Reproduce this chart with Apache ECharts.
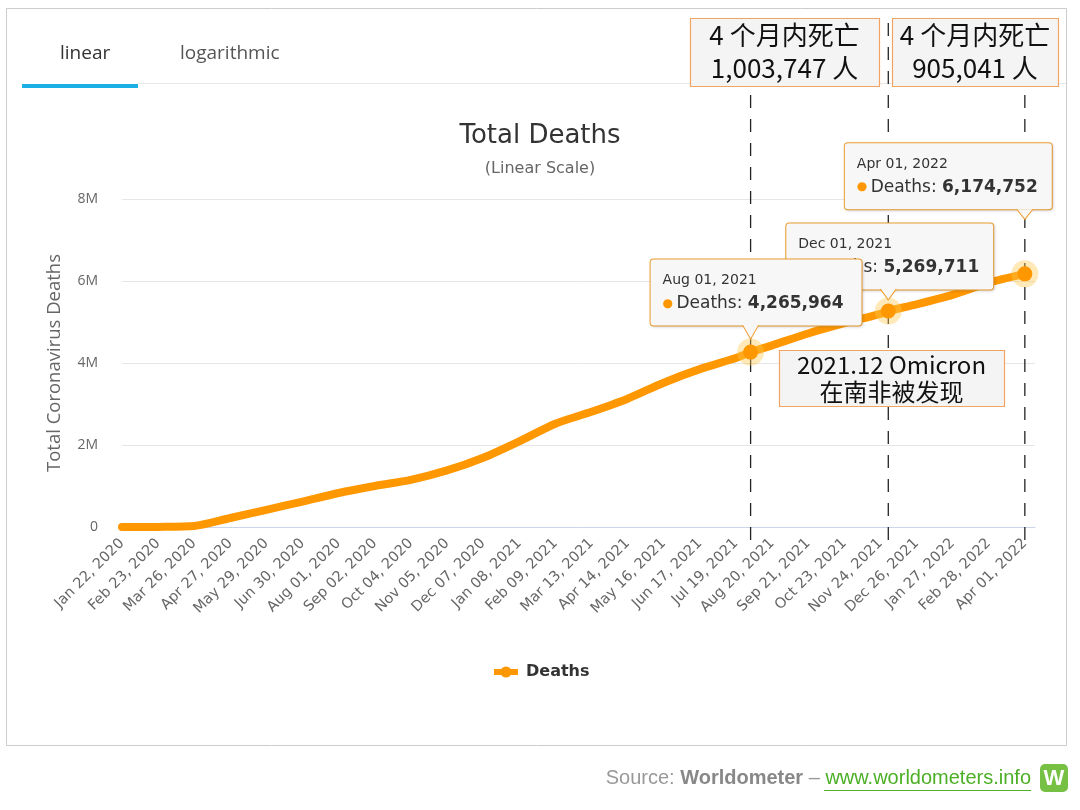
<!DOCTYPE html>
<html><head><meta charset="utf-8">
<script src="https://cdn.jsdelivr.net/npm/echarts@6/dist/echarts.min.js"></script>
<style>html,body{margin:0;padding:0;background:#fff}#c{width:1080px;height:810px}</style>
</head><body><div id="c"></div>
<script>
// ---- data ----
const sampleDates = ['Jan 22, 2020','Feb 23, 2020','Mar 26, 2020','Apr 27, 2020','May 29, 2020','Jun 30, 2020',
  'Aug 01, 2020','Sep 02, 2020','Oct 04, 2020','Nov 05, 2020','Dec 07, 2020','Jan 08, 2021','Feb 09, 2021',
  'Mar 13, 2021','Apr 14, 2021','May 16, 2021','Jun 17, 2021','Jul 19, 2021','Aug 01, 2021','Aug 20, 2021',
  'Sep 21, 2021','Oct 23, 2021','Nov 24, 2021','Dec 01, 2021','Dec 26, 2021','Jan 27, 2022','Feb 28, 2022','Apr 01, 2022'];
const deathValues = [17, 2700, 24000, 220000, 420000, 620000,
  830000, 1000000, 1150000, 1380000, 1690000, 2090000, 2520000,
  2810000, 3130000, 3520000, 3850000, 4120000, 4265964, 4430000,
  4720000, 4970000, 5200000, 5269711, 5430000, 5660000, 5960000, 6174752];
const highlightDates = ['Aug 01, 2021','Dec 01, 2021','Apr 01, 2022'];
const highlightValues = [4265964, 5269711, 6174752];
const periodNotes = [['4 个月内死亡','1,003,747 人'], ['4 个月内死亡','905,041 人']];
const omicronNote = ['2021.12 Omicron', '在南非被发现'];
const yTicks = [0, 2000000, 4000000, 6000000, 8000000];

// ---- axis categories (daily) ----
const MONTHS = ['Jan','Feb','Mar','Apr','May','Jun','Jul','Aug','Sep','Oct','Nov','Dec'];
function fmt(t){const d=new Date(t);return MONTHS[d.getUTCMonth()]+' '+String(d.getUTCDate()).padStart(2,'0')+', '+d.getUTCFullYear();}
const categories = [];
const start = Date.UTC(2020,0,22);
for (let i=0;i<810;i++) categories.push(fmt(start + i*86400000));

const ORANGE = '#ff9800';
const FONT = 'DejaVu Sans';

// layout of callouts (presentation only)
const calloutLayout = [
  {distance:19, offset:[-100,0], pad:[10,18,10,12], ptr:-20, ptrH:14, z:6, zl:1},
  {distance:14, offset:[-102,0], pad:[10,14,10,12], ptr:-16.5, ptrH:11, z:4, zl:0},
  {distance:57, offset:[-180,0], pad:[10,14,10,12], ptr:-59.5, ptrH:10, z:8, zl:1}
];
const drawOrder = [1, 0, 2];

const series = [];
series.push({
  name:'Deaths', type:'line', xAxisIndex:0, yAxisIndex:0,
  data: sampleDates.map((d,i)=>[d, deathValues[i]]),
  smooth:0.25, symbol:'circle', symbolSize:12, showSymbol:false,
  lineStyle:{width:8, color:ORANGE, cap:'round', join:'round'},
  itemStyle:{color:ORANGE}, z:2, silent:true
});
highlightDates.forEach((d,i)=>{
  series.push({type:'line', xAxisIndex:1, yAxisIndex:1, data:[[d,0],[d,1]], symbol:'none', silent:true,
    lineStyle:{color:'#222', width:1.3, type:[13,11]}, z:1});
});
series.push({type:'scatter', xAxisIndex:0, yAxisIndex:0, silent:true,
  data: highlightDates.map((d,i)=>[d, highlightValues[i]]), symbolSize:27,
  itemStyle:{color:'rgba(255,200,80,0.4)', opacity:1}, z:3});
drawOrder.forEach(i=>{
  const d = highlightDates[i];
  const L = calloutLayout[i];
  series.push({type:'scatter', xAxisIndex:0, yAxisIndex:0, silent:true, z:L.z, zlevel:L.zl,
    data:[{value:[d, highlightValues[i]]}], symbolSize:15,
    itemStyle:{color:ORANGE, opacity:1},
    label:{show:true, position:'top', distance:L.distance, offset:L.offset,
      formatter: '{d|'+d+'}\n{b|●} {n|Deaths: }{v|'+highlightValues[i].toLocaleString('en-US')+'}',
      backgroundColor:'#f7f7f7', borderColor:'#f0a030', borderWidth:1, borderRadius:3,
      padding:L.pad, align:'left', opacity:1,
      shadowColor:'rgba(0,0,0,0.12)', shadowBlur:3, shadowOffsetX:1, shadowOffsetY:1,
      rich:{
        d:{fontFamily:FONT, fontSize:14, color:'#333', lineHeight:22},
        b:{fontFamily:FONT, fontSize:12, color:ORANGE, lineHeight:24},
        n:{fontFamily:FONT, fontSize:17, color:'#333', lineHeight:24},
        v:{fontFamily:FONT, fontSize:17, color:'#333', fontWeight:'bold', lineHeight:24}
      }}
  });
  series.push({type:'scatter', xAxisIndex:0, yAxisIndex:0, silent:true, z:L.z+1, zlevel:L.zl,
    data:[[d, highlightValues[i]]], symbol:'path://M0,0L8,10L16,0', symbolSize:[16,L.ptrH],
    symbolOffset:[0, L.ptr], symbolKeepAspect:false,
    itemStyle:{color:'#f7f7f7', borderColor:'#f0a030', borderWidth:1, opacity:1}});
});

function box(x,y,w,h,lines,fs,lh){
  return {type:'group', z:100, children:[
    {type:'rect', shape:{x:x+0.5,y:y+0.5,width:w,height:h}, style:{fill:'#f4f4f4', stroke:'#f2a463', lineWidth:1.2}, z:100},
    {type:'text', x:x+w/2, y:y+h/2, z:101, style:{text:lines.join('\n'), fill:'#111', fontSize:fs, lineHeight:lh,
      fontFamily:'Noto Sans CJK SC', align:'center', verticalAlign:'middle'}}
  ]};
}

const option = {
  animation:false,
  backgroundColor:'#fff',
  title:{text:'Total Deaths', subtext:'(Linear Scale)', left:'center', top:118, itemGap:12,
    textStyle:{fontSize:26, fontWeight:'normal', color:'#333', fontFamily:FONT},
    subtextStyle:{fontSize:16, color:'#666', fontFamily:FONT}},
  legend:{data:['Deaths'], left:486, top:659, itemWidth:24, itemHeight:14, itemGap:8,
    lineStyle:{width:6, cap:'butt'}, itemStyle:{color:ORANGE},
    textStyle:{fontSize:16, fontWeight:'bold', color:'#333', fontFamily:FONT, padding:[0,0,0,3]}},
  grid:[
    {left:122, right:45, top:199, bottom:283},
    {left:122, right:45, top:18, bottom:270}
  ],
  xAxis:[
    {type:'category', gridIndex:0, data:categories, boundaryGap:false,
      axisLine:{lineStyle:{color:'#ccd6eb', width:1}}, axisTick:{show:false},
      axisLabel:{interval:31, rotate:45, fontSize:14.5, color:'#666', fontFamily:FONT, margin:14},
      splitLine:{show:false}},
    {type:'category', gridIndex:1, data:categories, boundaryGap:false, show:false}
  ],
  yAxis:[
    {type:'value', gridIndex:0, min:yTicks[0], max:yTicks[yTicks.length-1], interval:yTicks[1]-yTicks[0],
      axisLabel:{formatter:v=> v===0?'0':(v/1e6)+'M', margin:24, fontSize:14, color:'#666', fontFamily:'Open Sans'},
      splitLine:{lineStyle:{color:'#e6e6e6'}}, axisLine:{show:false}, axisTick:{show:false},
      name:'Total Coronavirus Deaths', nameLocation:'middle', nameGap:58,
      nameTextStyle:{fontSize:18.5, color:'#666', fontFamily:'Open Sans'}},
    {type:'value', gridIndex:1, min:0, max:1, show:false}
  ],
  series: series,
  graphic:{elements:[
    {type:'rect', shape:{x:6.5,y:8.5,width:1060,height:737}, style:{fill:'none', stroke:'#cccccc', lineWidth:1}, silent:true},
    {type:'line', shape:{x1:138,y1:83.5,x2:1066,y2:83.5}, style:{stroke:'#e8e8e8', lineWidth:1}, silent:true},
    {type:'rect', shape:{x:22,y:84,width:116,height:4}, style:{fill:'#1ab0e6'}, silent:true},
    {type:'text', x:60, y:54, style:{text:'linear', fontSize:19, fill:'#333', fontFamily:'Open Sans', verticalAlign:'middle'}},
    {type:'text', x:180, y:54, style:{text:'logarithmic', fontSize:19, fill:'#555', fontFamily:'Open Sans', verticalAlign:'middle'}},
    box(690,18,189,68,periodNotes[0],26,33),
    box(892,18,166,68,periodNotes[1],26,33),
    box(779,350,225,56,omicronNote,24,27),
    {type:'text', x:1031, y:778, style:{text:'{a|Source: }{b|Worldometer}{a| – }{c|www.worldometers.info}',
      align:'right', verticalAlign:'middle',
      rich:{a:{fontSize:20, fill:'#999', color:'#999', fontFamily:'Liberation Sans'},
            b:{fontSize:20, fill:'#888', color:'#888', fontWeight:'bold', fontFamily:'Liberation Sans'},
            c:{fontSize:20, fill:'#4caf25', color:'#4caf25', fontFamily:'Liberation Sans'}}}},
    {type:'line', shape:{x1:824,y1:790.5,x2:1031,y2:790.5}, style:{stroke:'#4caf25', lineWidth:1.2}, silent:true},
    {type:'rect', shape:{x:1040,y:764,width:28,height:28,r:5}, style:{fill:'#76c043'}, silent:true},
    {type:'text', x:1054, y:779, style:{text:'W', fontSize:22, fontWeight:'bold', fill:'#fff', fontFamily:'Liberation Sans', align:'center', verticalAlign:'middle'}}
  ]}
};
const chart = echarts.init(document.getElementById('c'), null, {renderer:'canvas'});
chart.setOption(option);
</script></body></html>
